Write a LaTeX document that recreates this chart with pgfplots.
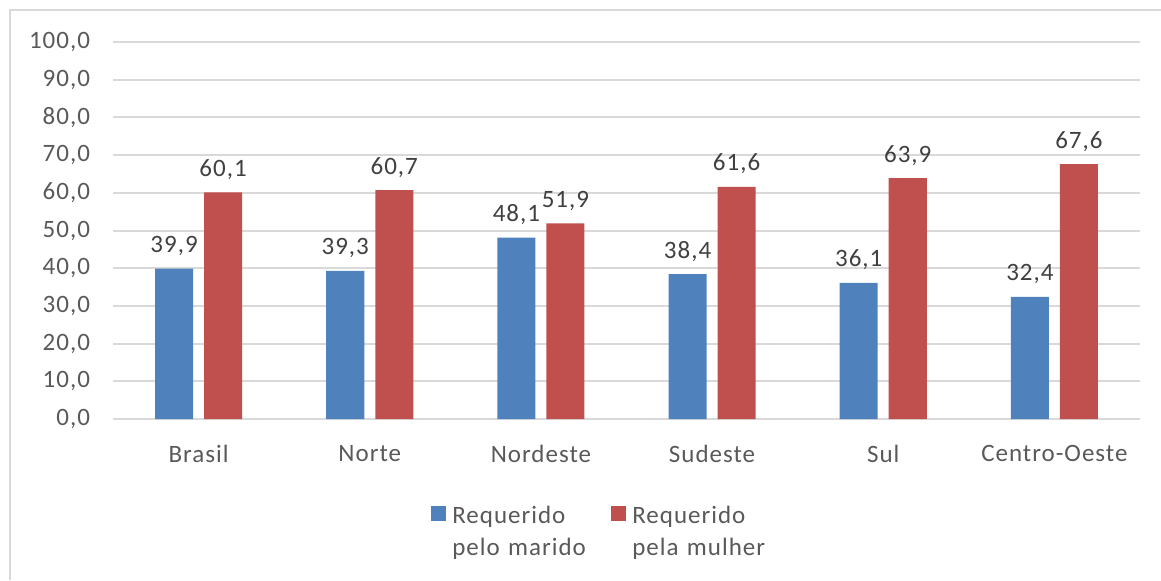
\documentclass[border=0pt]{standalone}
\usepackage{fontspec}
\setmainfont[LetterSpace=4]{Carlito}
\usepackage{pgfplots}
\pgfplotsset{compat=1.18}
\definecolor{cblue}{HTML}{4F81BD}
\definecolor{cred}{HTML}{C0504D}
\definecolor{cgrid}{HTML}{D9D9D9}
\definecolor{ctext}{HTML}{595959}
\definecolor{clabel}{HTML}{404040}
\pgfplotsset{sqlegend/.style={legend image code/.code={\fill[##1] (0pt,-10.5pt) rectangle (7.5pt,-3pt);}}}
\begin{document}
\begin{tikzpicture}[font=\fontsize{12.5}{15}\selectfont]
\path[use as bounding box] (0,0) rectangle (580.5pt,290pt);
\draw[cgrid, line width=1pt] (5pt,0) -- (5pt,285pt) -- (580.5pt,285pt);
\begin{axis}[
  at={(56.5pt,80.5pt)}, anchor=south west,
  scale only axis, width=513.5pt, height=188.5pt,
  ybar=5.5pt, bar width=19pt,
  xmin=-0.5, xmax=5.5, ymin=0, ymax=100,
  xtick=data,
  xticklabels={Brasil,Norte,Nordeste,Sudeste,Sul,Centro-Oeste},
  ytick={0,10,...,100},
  axis line style={draw=none},
  major tick length=0pt,
  ymajorgrids, grid style={cgrid, line width=1pt},
  tick label style={font=\fontsize{12.5}{15}\selectfont, text=ctext},
  xticklabel style={yshift=-9.5pt},
  yticklabel style={xshift=-8pt, /pgf/number format/.cd, fixed, fixed zerofill, precision=1, use comma, assume math mode=true},
  nodes near coords,
  nodes near coords style={font=\fontsize{12.5}{15}\selectfont, text=clabel, anchor=base, yshift=8pt,
    /pgf/number format/.cd, fixed, fixed zerofill, precision=1, use comma, assume math mode=true},
  legend columns=2,
  legend style={draw=none, fill=none, inner sep=0pt,
    at={(axis description cs:0.3096,-0.214)}, anchor=north west,
    cells={anchor=north west},
    nodes={text width=76.5pt, align=left, inner sep=3pt, text=ctext, font=\fontsize{12.5}{16}\selectfont}},
]
\addplot[fill=cblue, draw=none, sqlegend] coordinates {(0,39.9) (1,39.3) (2,48.1) (3,38.4) (4,36.1) (5,32.4)};
\addplot[fill=cred, draw=none, sqlegend] coordinates {(0,60.1) (1,60.7) (2,51.9) (3,61.6) (4,63.9) (5,67.6)};
\legend{{Requerido\\pelo marido},{Requerido\\pela mulher}}
\end{axis}
\end{tikzpicture}
\end{document}
